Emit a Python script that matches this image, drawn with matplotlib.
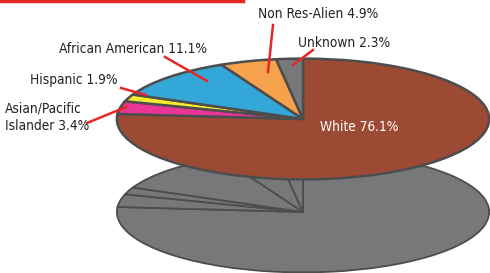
import matplotlib.pyplot as plt
from matplotlib.lines import Line2D

plt.rcParams['font.family'] = ['DejaVu Sans']
plt.rcParams['font.stretch'] = 'condensed'

# slices, clockwise from 12 o'clock
groups = ['White', 'Asian/Pacific\nIslander', 'Hispanic', 'African American', 'Non Res-Alien', 'Unknown']
shares = [76.1, 3.4, 1.9, 11.1, 4.9, 2.3]
colors = ['#9c4a33', '#ea3596', '#f6ea2c', '#34a7d9', '#f6a14c', '#77787a']
edge = '#4d4d4f'
red = '#e42828'

fig = plt.figure(figsize=(4.9, 2.73), dpi=100)

def pie_axes(cx, cy, rx, ry):
    W, H = 490, 273
    return fig.add_axes([(cx - rx) / W, 1 - (cy + ry) / H, 2 * rx / W, 2 * ry / H])

# grey "floor" copy
ax2 = pie_axes(303, 212, 188, 61)
ax2.pie(shares, colors=['#77787a'] * len(shares), startangle=90, counterclock=False,
        wedgeprops=dict(edgecolor=edge, linewidth=1.3))
ax2.set_aspect('auto')
ax2.set_xlim(-1.01, 1.01)
ax2.set_ylim(-1.01, 1.01)

# top pie
ax = pie_axes(303, 119, 188, 61)
ax.pie(shares, colors=colors, startangle=90, counterclock=False,
       wedgeprops=dict(edgecolor=edge, linewidth=1.8))
ax.set_aspect('auto')
ax.set_xlim(-1.01, 1.01)
ax.set_ylim(-1.01, 1.01)

# labels in pixel positions of the figure
def px(x, y):
    return x / 490, 1 - y / 273

lab_style = dict(fontsize=9.8, color='#222222', transform=fig.transFigure)
fig.text(*px(258, 14), f'{groups[4]} {shares[4]}%', va='center', ha='left', **lab_style)
fig.text(*px(298, 43), f'{groups[5]} {shares[5]}%', va='center', ha='left', **lab_style)
fig.text(*px(207, 49), f'{groups[3]} {shares[3]}%', va='center', ha='right', **lab_style)
fig.text(*px(117, 80), f'{groups[2]} {shares[2]}%', va='center', ha='right', **lab_style)
fig.text(*px(5, 117), f'{groups[1]} {shares[1]}%', va='center', ha='left', linespacing=1.35, **lab_style)
fig.text(*px(359, 127), f'{groups[0]} {shares[0]}%', va='center', ha='center',
         fontsize=9.8, color='white', transform=fig.transFigure)

leaders = [((273, 25), (268, 72)), ((313, 50), (293, 65)), ((165, 57), (207, 81)),
           ((121, 88), (146, 95)), ((87, 123), (126, 107))]
for a, b in leaders:
    (x0, y0), (x1, y1) = px(*a), px(*b)
    fig.add_artist(Line2D([x0, x1], [y0, y1], color=red, linewidth=1.8, transform=fig.transFigure))

fig.add_artist(Line2D([0, 243 / 490], [1 - 1 / 273] * 2, color=red, linewidth=2.5, transform=fig.transFigure))

fig.savefig('out.png', dpi=100)
